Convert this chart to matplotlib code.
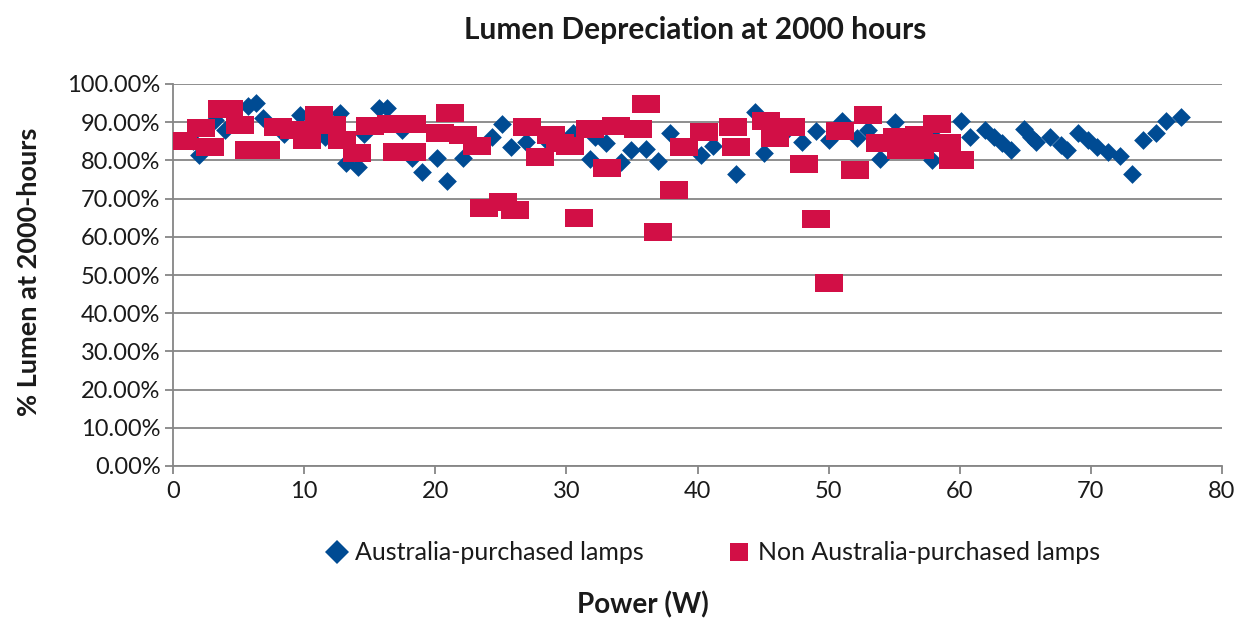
import matplotlib
matplotlib.use("Agg")
import matplotlib.pyplot as plt
from matplotlib.ticker import FuncFormatter, MultipleLocator
from matplotlib.lines import Line2D

plt.rcParams['font.family'] = ['Lato', 'DejaVu Sans']

# Australia-purchased lamps (power W, % lumen)
aus_power = [2.0, 3.2, 1.5, 4.0, 5.7, 6.3, 6.9, 8.5, 9.7, 10.5, 11.6, 12.7, 13.2, 14.1, 14.6,
             15.7, 16.3, 17.5, 18.2, 19.0, 20.1, 20.9, 22.1, 24.3, 25.1, 25.8, 26.9, 28.5,
             30.5, 31.8, 32.2, 33.0, 34.2, 34.9, 36.1, 37.0, 37.9, 40.3, 41.2, 42.9, 44.4,
             45.1, 46.5, 48.0, 49.0, 50.0, 51.0, 52.2, 53.0, 53.9, 55.1, 56.0, 57.9, 58.0,
             60.1, 60.8, 61.9, 62.6, 63.2, 63.9, 64.9, 65.4, 65.8, 66.9, 67.7, 68.2, 69.0,
             69.8, 70.5, 71.3, 72.2, 73.1, 74.0, 75.0, 75.7, 76.9]
aus_lumen = [81.4, 90.6, 85.0, 88.0, 94.2, 94.9, 91.0, 87.0, 91.9, 88.0, 86.2, 92.3, 79.2, 78.3, 87.0,
             93.6, 93.6, 88.0, 80.5, 77.0, 80.5, 74.6, 80.5, 86.2, 89.5, 83.6, 84.9, 85.0,
             87.1, 80.4, 86.2, 84.5, 79.7, 82.7, 82.9, 79.8, 87.3, 81.5, 83.8, 76.4, 92.6,
             82.0, 87.0, 84.9, 87.8, 85.3, 90.4, 85.8, 88.0, 80.4, 90.1, 85.0, 80.1, 86.0,
             90.4, 86.2, 88.0, 86.2, 84.5, 82.7, 88.1, 86.2, 84.9, 86.2, 84.0, 82.7, 87.3,
             85.3, 83.6, 82.3, 81.2, 76.4, 85.3, 87.1, 90.4, 91.4]

# Non Australia-purchased lamps
non_power = [0.8, 2.1, 2.8, 3.7, 4.3, 5.1, 5.8, 7.1, 8.0, 9.2, 10.2, 10.2, 11.1, 12.1, 12.9,
             14.0, 15.0, 16.6, 17.1, 18.2, 18.2, 20.4, 21.1, 22.1, 23.2, 23.7, 25.2, 26.1,
             27.0, 28.0, 28.8, 29.5, 30.3, 31.0, 31.8, 33.1, 33.8, 35.5, 36.1, 37.0, 38.2,
             39.0, 40.5, 42.7, 42.9, 45.2, 45.9, 47.1, 48.1, 49.0, 50.0, 50.9, 52.0, 53.0,
             53.9, 55.2, 55.5, 56.9, 57.0, 58.3, 59.0, 59.5, 60.0]
non_lumen = [85.0, 88.5, 83.6, 93.5, 93.5, 89.3, 82.7, 82.7, 88.7, 88.0, 88.0, 85.3, 92.0, 89.3, 85.3,
             82.0, 89.0, 89.4, 82.3, 82.3, 89.5, 87.1, 92.3, 86.6, 83.8, 67.6, 69.0, 67.0,
             88.7, 81.0, 86.6, 84.6, 83.8, 64.8, 88.1, 77.9, 89.0, 88.1, 94.7, 61.3, 72.3,
             83.6, 87.4, 88.8, 83.6, 90.4, 85.8, 88.8, 79.0, 64.6, 47.9, 87.7, 77.6, 91.9,
             84.6, 86.2, 82.7, 86.6, 82.7, 89.5, 84.5, 80.1, 80.1]

series_names = ['Australia-purchased lamps', 'Non Australia-purchased lamps']

blue = '#004B93'
red = '#D20F46'
grid_c = '#868686'
text_c = '#1a1a1a'

fig = plt.figure(figsize=(12.38, 6.18), dpi=100)
ax = fig.add_axes([173/1238, 1-466/618, (1222-173)/1238, (466-84)/618])

diamond = [(0, 1), (1, 0), (0, -1), (-1, 0), (0, 1)]
rect = [(-1.5, -1), (1.5, -1), (1.5, 1), (-1.5, 1), (-1.5, -1)]

ax.scatter(aus_power, aus_lumen, marker=diamond, s=13.5**2, color=blue, linewidths=0, zorder=3)
ax.scatter(non_power, non_lumen, marker=rect, s=20.5**2, color=red, linewidths=0, zorder=4)

ax.set_xlim(0, 80)
ax.set_ylim(0, 100)
ax.xaxis.set_major_locator(MultipleLocator(10))
ax.yaxis.set_major_locator(MultipleLocator(10))
ax.yaxis.set_major_formatter(FuncFormatter(lambda v, p: f"{v:.2f}%"))
ax.grid(axis='y', color=grid_c, linewidth=1.3)
ax.set_axisbelow(True)
for s in ['top', 'right']:
    ax.spines[s].set_visible(False)
for s in ['left', 'bottom']:
    ax.spines[s].set_color(grid_c)
    ax.spines[s].set_linewidth(1.3)
ax.tick_params(axis='both', colors=grid_c, length=6, width=1.3, labelsize=17,
               labelcolor=text_c)
ax.tick_params(axis='x', pad=5)
ax.tick_params(axis='y', pad=3)

fig.text(695/1238, 1-30/618, 'Lumen Depreciation at 2000 hours', ha='center', va='center',
         fontsize=21.5, fontweight='bold', color=text_c)
fig.text(29/1238, 1-272/618, '% Lumen at 2000-hours', ha='center', va='center',
         rotation=90, fontsize=19.5, fontweight='bold', color=text_c)
fig.text(643/1238, 1-605/618, 'Power (W)', ha='center', va='center',
         fontsize=20, fontweight='bold', color=text_c)

handles = [Line2D([], [], linestyle='none', marker='D', markersize=12, color=blue, markeredgewidth=0),
           Line2D([], [], linestyle='none', marker='s', markersize=12.5, color=red, markeredgewidth=0)]
leg = fig.legend(handles, series_names, loc='center', bbox_to_anchor=(712/1238, 1-553/618),
                 ncol=2, frameon=False, fontsize=18, columnspacing=3.3, handletextpad=0.25,
                 handlelength=1.0)
for t in leg.get_texts():
    t.set_color(text_c)

fig.savefig('out.png', dpi=100)
